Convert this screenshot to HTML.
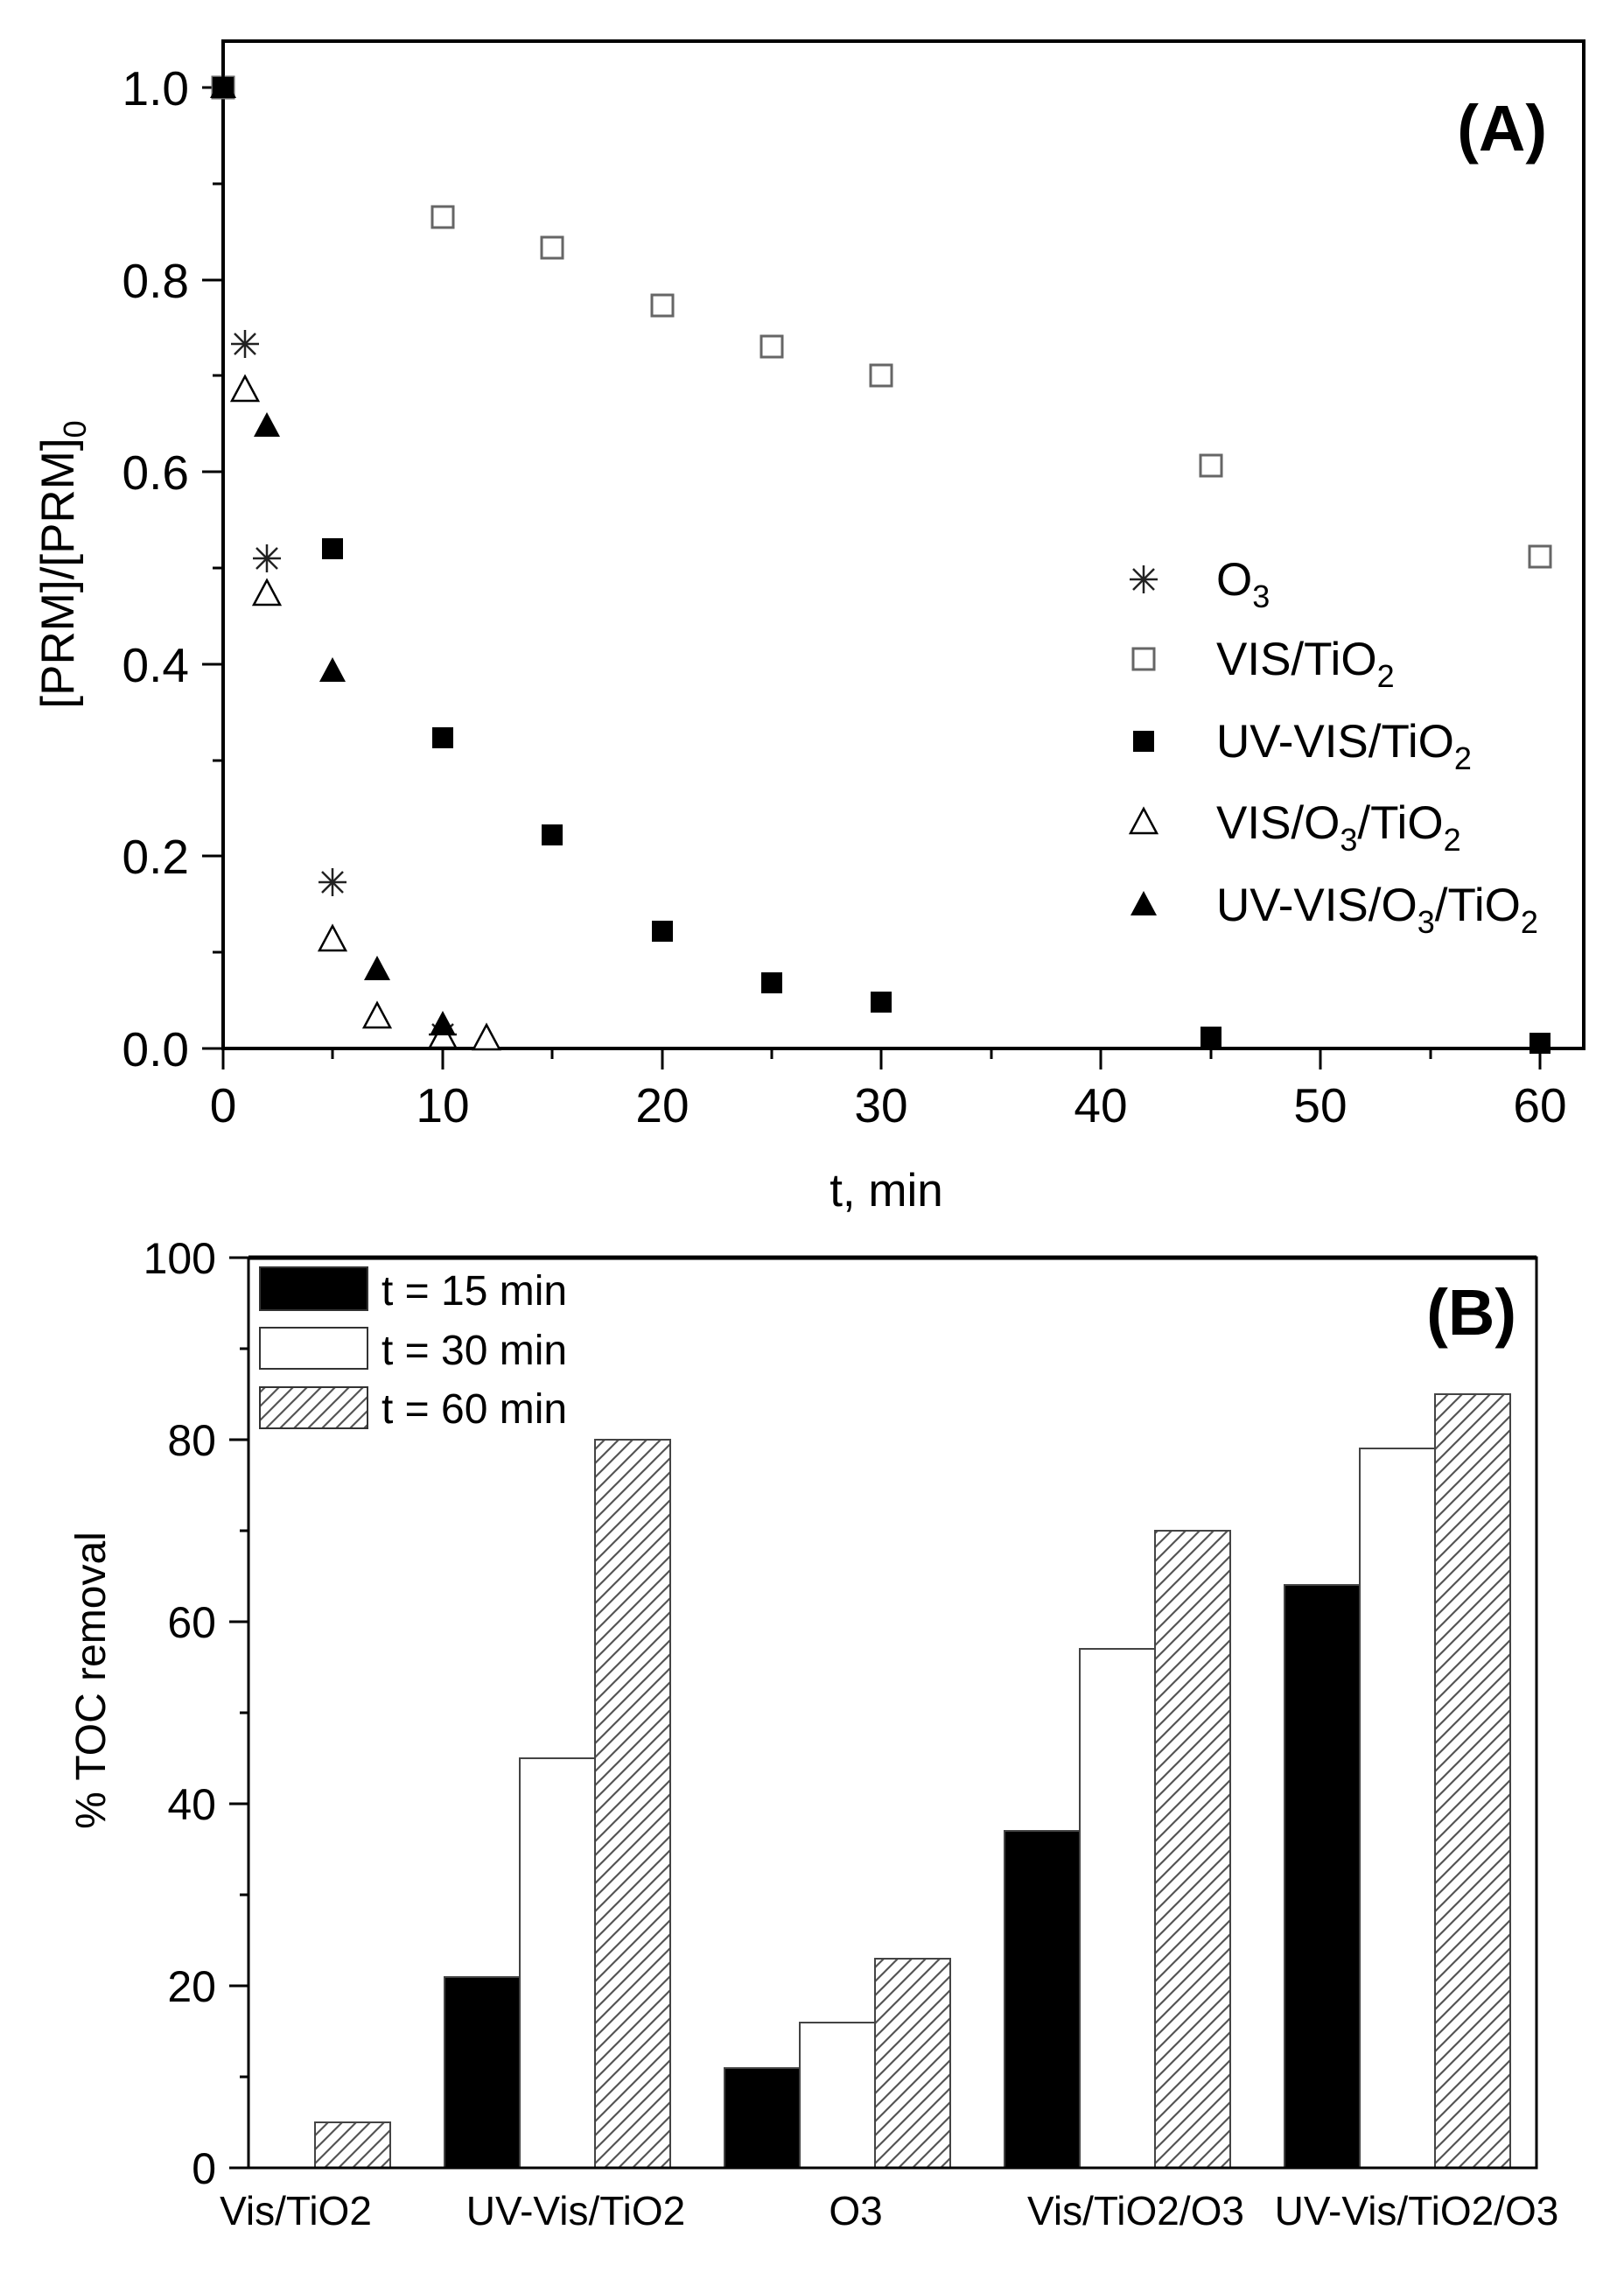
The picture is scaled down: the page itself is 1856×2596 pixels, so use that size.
<!DOCTYPE html>
<html><head><meta charset="utf-8"><style>
html,body{margin:0;padding:0;background:#fff}
svg{display:block}
text{font-family:"Liberation Sans",sans-serif;fill:#000}
</style></head><body>
<svg width="1856" height="2596" viewBox="0 0 1856 2596" xmlns="http://www.w3.org/2000/svg">
<defs>
<g id="sqO"><rect x="-12" y="-12" width="24" height="24" fill="#fff" stroke="#666" stroke-width="3"/></g>
<g id="sqF"><rect x="-12" y="-12" width="24" height="24" fill="#000"/></g>
<g id="triO"><polygon points="0,-16 15,12 -15,12" fill="#fff" stroke="#000" stroke-width="2.5"/></g>
<g id="triF"><polygon points="0,-16 15,12 -15,12" fill="#000"/></g>
<g id="ast" stroke="#222" stroke-width="2.5"><line x1="0" y1="-16" x2="0" y2="16"/><line x1="-16" y1="0" x2="16" y2="0"/><line x1="-12" y1="-12" x2="12" y2="12"/><line x1="-12" y1="12" x2="12" y2="-12"/></g>
<pattern id="hatch" patternUnits="userSpaceOnUse" width="16" height="16">
<rect width="16" height="16" fill="#fff"/>
<line x1="-4" y1="20" x2="20" y2="-4" stroke="#555" stroke-width="2.2"/>
<line x1="-12" y1="12" x2="12" y2="-12" stroke="#555" stroke-width="2.2"/>
<line x1="4" y1="28" x2="28" y2="4" stroke="#555" stroke-width="2.2"/>
</pattern>
</defs>

<!-- Panel A -->
<rect x="255" y="47" width="1555" height="1151" fill="none" stroke="#000" stroke-width="4"/>
<g stroke="#000" stroke-width="3">
<line x1="231" y1="1198" x2="255" y2="1198"/><line x1="231" y1="978" x2="255" y2="978"/><line x1="231" y1="759" x2="255" y2="759"/><line x1="231" y1="539" x2="255" y2="539"/><line x1="231" y1="320" x2="255" y2="320"/><line x1="231" y1="100" x2="255" y2="100"/>
<line x1="243" y1="1088" x2="255" y2="1088"/><line x1="243" y1="869" x2="255" y2="869"/><line x1="243" y1="649" x2="255" y2="649"/><line x1="243" y1="429" x2="255" y2="429"/><line x1="243" y1="210" x2="255" y2="210"/>
<line x1="255" y1="1198" x2="255" y2="1222"/><line x1="506" y1="1198" x2="506" y2="1222"/><line x1="757" y1="1198" x2="757" y2="1222"/><line x1="1007" y1="1198" x2="1007" y2="1222"/><line x1="1258" y1="1198" x2="1258" y2="1222"/><line x1="1509" y1="1198" x2="1509" y2="1222"/><line x1="1760" y1="1198" x2="1760" y2="1222"/>
<line x1="380" y1="1198" x2="380" y2="1210"/><line x1="631" y1="1198" x2="631" y2="1210"/><line x1="882" y1="1198" x2="882" y2="1210"/><line x1="1133" y1="1198" x2="1133" y2="1210"/><line x1="1384" y1="1198" x2="1384" y2="1210"/><line x1="1635" y1="1198" x2="1635" y2="1210"/>
</g>
<g font-size="55" text-anchor="end">
<text x="216" y="1218">0.0</text><text x="216" y="998">0.2</text><text x="216" y="779">0.4</text><text x="216" y="559">0.6</text><text x="216" y="340">0.8</text><text x="216" y="120">1.0</text>
</g>
<g font-size="55" text-anchor="middle">
<text x="255" y="1282">0</text><text x="506" y="1282">10</text><text x="757" y="1282">20</text><text x="1007" y="1282">30</text><text x="1258" y="1282">40</text><text x="1509" y="1282">50</text><text x="1760" y="1282">60</text>
</g>
<text x="1013" y="1378" font-size="53" text-anchor="middle">t, min</text>
<text transform="translate(84,645) rotate(-90)" font-size="53" text-anchor="middle">[PRM]/[PRM]<tspan font-size="36" dy="14">0</tspan></text>
<text x="1768" y="172" font-size="74" font-weight="bold" text-anchor="end">(A)</text>

<!-- data A -->
<use href="#sqO" x="255" y="100"/><use href="#sqO" x="506" y="248"/><use href="#sqO" x="631" y="283"/><use href="#sqO" x="757" y="349"/><use href="#sqO" x="882" y="396"/><use href="#sqO" x="1007" y="429"/><use href="#sqO" x="1384" y="532"/><use href="#sqO" x="1760" y="636"/>
<use href="#sqF" x="255" y="100"/><use href="#sqF" x="380" y="627"/><use href="#sqF" x="506" y="843"/><use href="#sqF" x="631" y="954"/><use href="#sqF" x="757" y="1064"/><use href="#sqF" x="882" y="1123"/><use href="#sqF" x="1007" y="1145"/><use href="#sqF" x="1384" y="1185"/><use href="#sqF" x="1760" y="1192"/>
<use href="#ast" x="280" y="393"/><use href="#ast" x="305" y="638"/><use href="#ast" x="380" y="1008"/><use href="#ast" x="506" y="1182"/>
<use href="#triO" x="280" y="446"/><use href="#triO" x="305" y="679"/><use href="#triO" x="380" y="1074"/><use href="#triO" x="431" y="1162"/><use href="#triO" x="506" y="1185"/><use href="#triO" x="556" y="1187"/>
<use href="#triF" x="255" y="100"/><use href="#triF" x="305" y="487"/><use href="#triF" x="380" y="767"/><use href="#triF" x="431" y="1108"/><use href="#triF" x="506" y="1171"/>

<!-- legend A -->
<use href="#ast" x="1307" y="662"/><use href="#sqO" x="1307" y="753"/><use href="#sqF" x="1307" y="847"/><use href="#triO" x="1307" y="940"/><use href="#triF" x="1307" y="1034"/>
<g font-size="53">
<text x="1390" y="680">O<tspan font-size="36" dy="14">3</tspan></text>
<text x="1390" y="771">VIS/TiO<tspan font-size="36" dy="14">2</tspan></text>
<text x="1390" y="865">UV-VIS/TiO<tspan font-size="36" dy="14">2</tspan></text>
<text x="1390" y="958">VIS/O<tspan font-size="36" dy="14">3</tspan><tspan dy="-14">/TiO</tspan><tspan font-size="36" dy="14">2</tspan></text>
<text x="1390" y="1052">UV-VIS/O<tspan font-size="36" dy="14">3</tspan><tspan dy="-14">/TiO</tspan><tspan font-size="36" dy="14">2</tspan></text>
</g>

<!-- Panel B -->
<g stroke="#444" stroke-width="2">
<rect x="360" y="2425" width="86" height="52" fill="url(#hatch)"/>
<rect x="508" y="2259" width="86" height="218" fill="#000"/>
<rect x="594" y="2009" width="86" height="468" fill="#fff"/>
<rect x="680" y="1645" width="86" height="832" fill="url(#hatch)"/>
<rect x="828" y="2363" width="86" height="114" fill="#000"/>
<rect x="914" y="2311" width="86" height="166" fill="#fff"/>
<rect x="1000" y="2238" width="86" height="239" fill="url(#hatch)"/>
<rect x="1148" y="2092" width="86" height="385" fill="#000"/>
<rect x="1234" y="1884" width="86" height="593" fill="#fff"/>
<rect x="1320" y="1749" width="86" height="728" fill="url(#hatch)"/>
<rect x="1468" y="1811" width="86" height="666" fill="#000"/>
<rect x="1554" y="1655" width="86" height="822" fill="#fff"/>
<rect x="1640" y="1593" width="86" height="884" fill="url(#hatch)"/>
</g>
<rect x="284" y="1437" width="1472" height="1040" fill="none" stroke="#000" stroke-width="3"/>
<line x1="284" y1="1437" x2="1756" y2="1437" stroke="#000" stroke-width="5"/>
<g stroke="#000" stroke-width="3">
<line x1="262" y1="2477" x2="284" y2="2477"/><line x1="262" y1="2269" x2="284" y2="2269"/><line x1="262" y1="2061" x2="284" y2="2061"/><line x1="262" y1="1853" x2="284" y2="1853"/><line x1="262" y1="1645" x2="284" y2="1645"/><line x1="262" y1="1437" x2="284" y2="1437"/>
<line x1="274" y1="2373" x2="284" y2="2373"/><line x1="274" y1="2165" x2="284" y2="2165"/><line x1="274" y1="1957" x2="284" y2="1957"/><line x1="274" y1="1749" x2="284" y2="1749"/><line x1="274" y1="1541" x2="284" y2="1541"/>
</g>
<g font-size="50" text-anchor="end">
<text x="247" y="2495">0</text><text x="247" y="2287">20</text><text x="247" y="2079">40</text><text x="247" y="1871">60</text><text x="247" y="1663">80</text><text x="247" y="1455">100</text>
</g>
<text transform="translate(120,1920) rotate(-90)" font-size="48" text-anchor="middle">% TOC removal</text>
<g font-size="46" text-anchor="middle">
<text x="338" y="2542">Vis/TiO2</text><text x="658" y="2542">UV-Vis/TiO2</text><text x="978" y="2542">O3</text><text x="1298" y="2542">Vis/TiO2/O3</text><text x="1619" y="2542">UV-Vis/TiO2/O3</text>
</g>
<text x="1733" y="1525" font-size="74" font-weight="bold" text-anchor="end">(B)</text>
<!-- legend B -->
<rect x="297" y="1448" width="123" height="49" fill="#000" stroke="#333" stroke-width="2"/>
<rect x="297" y="1517" width="123" height="47" fill="#fff" stroke="#333" stroke-width="2"/>
<rect x="297" y="1585" width="123" height="47" fill="url(#hatch)" stroke="#333" stroke-width="2"/>
<g font-size="48">
<text x="436" y="1491">t = 15 min</text><text x="436" y="1559">t = 30 min</text><text x="436" y="1626">t = 60 min</text>
</g>
</svg>
</body></html>
